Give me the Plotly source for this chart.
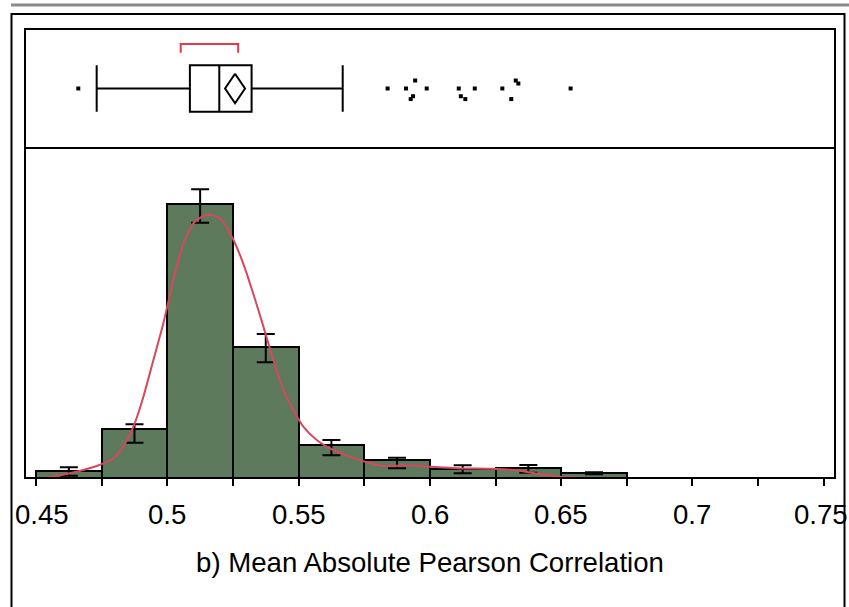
import plotly.graph_objects as go

# ---------------- data ----------------
bin_centers = [0.4625, 0.4875, 0.5125, 0.5375, 0.5625, 0.5875, 0.6125, 0.6375, 0.6625]
bin_width = 0.025
pct = [1.36, 9.12, 50.97, 24.45, 6.15, 3.35, 1.62, 1.92, 0.99]
err_hi = [1.99, 10.0, 53.76, 26.82, 7.08, 3.78, 2.36, 2.42, 1.05]
err_lo = [0.43, 6.57, 47.54, 21.55, 4.23, 1.81, 0.88, 0.99, 0.69]

kde_x = [0.4534, 0.4629, 0.4731, 0.4794, 0.4832, 0.4871, 0.4909, 0.4947, 0.4985,
         0.5023, 0.5061, 0.5099, 0.5137, 0.5163, 0.5201, 0.5245, 0.5289, 0.5327,
         0.5366, 0.5404, 0.5442, 0.5480, 0.5518, 0.5569, 0.5632, 0.5696, 0.5759,
         0.5823, 0.5912, 0.6000, 0.6102, 0.6254, 0.6343, 0.6419, 0.6495, 0.6622, 0.6857]
kde_y = [0.0, 0.88, 2.23, 3.67, 5.83, 9.55, 15.14, 21.97, 28.81,
         36.87, 43.71, 47.43, 48.79, 48.98, 48.36, 45.0, 39.98, 34.39,
         28.18, 21.97, 16.39, 12.66, 9.55, 7.08, 5.21, 3.97, 2.92,
         2.23, 2.37, 2.10, 1.81, 1.68, 1.36, 0.69, 0.24, 0.0, 0.0]

# box plot statistics
q1, median, q3 = 0.5086, 0.5198, 0.5321
whisker_lo, whisker_hi = 0.4731, 0.5668
mean_val = 0.5258
shortest_half = [0.5051, 0.5270]
outlier_x = [0.4661, 0.5839, 0.5909, 0.5944, 0.5988, 0.5927, 0.5936, 0.6110, 0.6118,
             0.6135, 0.6171, 0.6276, 0.6327, 0.6337, 0.6310, 0.6536]
outlier_jitter = [0.0, 0.0, 0.0, 0.134, 0.0, -0.178, -0.13, 0.0, -0.13,
                  -0.178, 0.0, 0.0, 0.134, 0.084, -0.178, 0.0]

tick_vals = [0.45, 0.5, 0.55, 0.6, 0.65, 0.7, 0.75]
tick_text = ["0.45", "0.5", "0.55", "0.6", "0.65", "0.7", "0.75"]
tick_label_nudge = [6, 0, 0, 0, 0, 0, -2.5]   # px, keeps end labels inside the frame
x_title = "b) Mean Absolute Pearson Correlation"

# ---------------- styles ----------------
FONT = "Liberation Sans, Arial, sans-serif"
FS = 27.6
BAR_COLOR = "#5E7A5C"
CURVE_COLOR = "#D8475B"
BRACKET_COLOR = "#E8374C"
W, H = 849, 607
ML, MR, MT, MB = 25, 14, 29, 129
split = 0.735

fig = go.Figure()

fig.add_trace(go.Bar(
    x=bin_centers, y=pct, width=bin_width,
    marker=dict(color=BAR_COLOR, line=dict(color="black", width=2)),
    error_y=dict(type="data", symmetric=False,
                 array=[h - p for h, p in zip(err_hi, pct)],
                 arrayminus=[p - l for l, p in zip(err_lo, pct)],
                 color="black", thickness=2, width=9),
    xaxis="x", yaxis="y", showlegend=False, hoverinfo="skip"))

fig.add_trace(go.Scatter(
    x=kde_x, y=kde_y, mode="lines",
    line=dict(color=CURVE_COLOR, width=2, shape="spline", smoothing=0.6),
    xaxis="x", yaxis="y", showlegend=False, hoverinfo="skip"))

# box plot (top panel)
fig.add_trace(go.Box(
    y=[0], q1=[q1], median=[median], q3=[q3],
    lowerfence=[whisker_lo], upperfence=[whisker_hi],
    orientation="h", width=0.78, whiskerwidth=1, boxpoints=False,
    fillcolor="white", line=dict(color="black", width=2),
    xaxis="x", yaxis="y2", showlegend=False, hoverinfo="skip"))

# mean diamond
dx, dy = 0.0038, 0.247
fig.add_trace(go.Scatter(
    x=[mean_val, mean_val + dx, mean_val, mean_val - dx, mean_val],
    y=[dy, 0, -dy, 0, dy], mode="lines",
    line=dict(color="black", width=2),
    xaxis="x", yaxis="y2", showlegend=False, hoverinfo="skip"))

# shortest-half bracket
yt, yb = 0.748, 0.60
fig.add_trace(go.Scatter(
    x=[shortest_half[0], shortest_half[0], shortest_half[1], shortest_half[1]],
    y=[yb, yt, yt, yb], mode="lines",
    line=dict(color=BRACKET_COLOR, width=2),
    xaxis="x", yaxis="y2", showlegend=False, hoverinfo="skip"))

# outliers
fig.add_trace(go.Scatter(
    x=outlier_x, y=outlier_jitter, mode="markers",
    marker=dict(symbol="square", size=4, color="black"),
    xaxis="x", yaxis="y2", showlegend=False, hoverinfo="skip"))

pw = W - ML - MR
ph = H - MT - MB

def px_x(p):
    return (p - ML) / pw

def px_y(p):
    return (H - MB - p) / ph

shapes = [
    dict(type="rect", xref="paper", yref="paper", x0=0, x1=1, y0=0, y1=1,
         line=dict(color="black", width=2), layer="above"),
    dict(type="line", xref="paper", yref="paper", x0=0, x1=1, y0=split, y1=split,
         line=dict(color="black", width=2), layer="above"),
    dict(type="rect", xref="paper", yref="paper", x0=px_x(11.5), x1=px_x(844.5),
         y0=px_y(640), y1=px_y(14), line=dict(color="black", width=2), layer="above"),
    dict(type="line", xref="paper", yref="paper", x0=px_x(11), x1=px_x(851),
         y0=px_y(5), y1=px_y(5), line=dict(color="#8a8a8a", width=3), layer="above"),
]

annotations = [
    dict(text=t, x=v, xref="x", y=0, yref="paper", xanchor="center", yanchor="top",
         xshift=s, yshift=-19, showarrow=False,
         font=dict(family=FONT, size=FS, color="black"))
    for v, t, s in zip(tick_vals, tick_text, tick_label_nudge)
]

fig.update_layout(
    width=W, height=H,
    margin=dict(l=ML, r=MR, t=MT, b=MB, autoexpand=False),
    paper_bgcolor="white", plot_bgcolor="white",
    bargap=0, shapes=shapes, annotations=annotations,
    font=dict(family=FONT, size=FS, color="black"),
    xaxis=dict(range=[0.4458, 0.7543], tickvals=tick_vals, showticklabels=False,
               ticks="outside", ticklen=7, tickwidth=2, tickcolor="black",
               minor=dict(dtick=0.025, tick0=0.45, ticks="outside", ticklen=7,
                          tickwidth=2, tickcolor="black"),
               showgrid=False, zeroline=False, showline=False,
               title=dict(text=x_title, font=dict(family=FONT, size=FS, color="black"),
                          standoff=67),
               anchor="y", automargin=False),
    yaxis=dict(domain=[0, split], range=[0, 61.45], showticklabels=False, ticks="",
               showgrid=False, zeroline=False, showline=False, automargin=False),
    yaxis2=dict(domain=[split, 1], range=[-1, 1], type="linear", showticklabels=False,
                ticks="", showgrid=False, zeroline=False, showline=False,
                anchor="x", automargin=False),
)

fig.write_html("out.html")
